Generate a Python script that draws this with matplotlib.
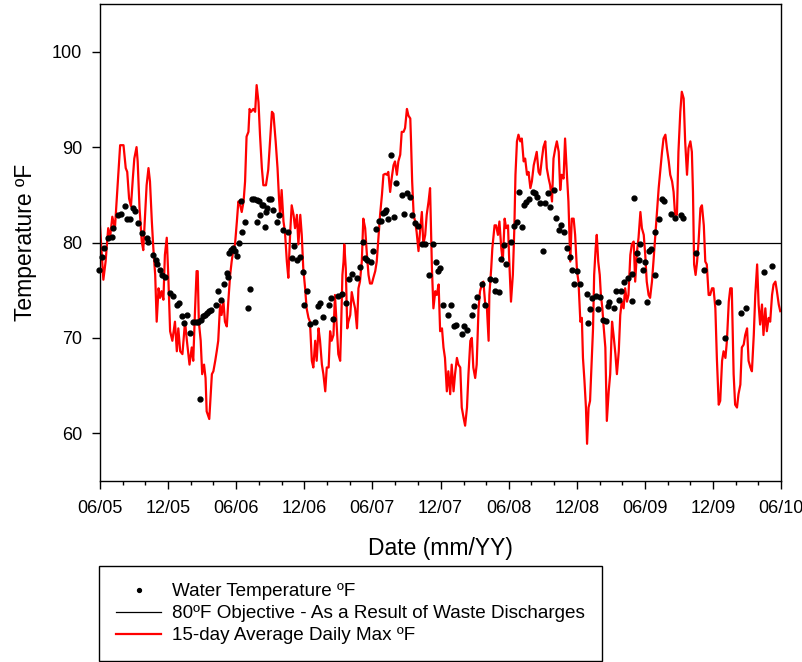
import numpy as np
import matplotlib.pyplot as plt
import matplotlib.dates as mdates

plt.rcParams['font.family'] = ['Liberation Sans', 'DejaVu Sans']

start = np.datetime64('2005-06-01')

# 15-day average daily max (days after 06/01/05, degF)
red_day = [0, 9, 15, 22, 27, 33, 40, 45, 54, 63, 69, 73, 78, 83, 88, 92, 98, 101, 106, 112,
           116, 121, 125, 130, 134, 139, 143, 148, 152, 157, 161, 165, 170, 174, 179, 183, 188, 194, 201, 206,
           210, 215, 221, 228, 233, 240, 246, 250, 255, 259, 262, 265, 270, 274, 279, 283, 286, 293, 300, 304,
           309, 313, 317, 322, 326, 331, 335, 340, 344, 349, 353, 358, 362, 367, 371, 376, 380, 385, 389, 393,
           398, 401, 405, 411, 416, 420, 425, 429, 434, 438, 445, 451, 456, 461, 465, 468, 471, 476, 480, 483,
           487, 492, 496, 501, 505, 510, 514, 519, 523, 528, 532, 537, 541, 545, 550, 554, 559, 563, 568, 572,
           577, 581, 586, 590, 595, 599, 604, 608, 613, 617, 621, 626, 630, 635, 639, 644, 646, 650, 653, 655,
           659, 663, 666, 671, 675, 680, 684, 689, 693, 697, 702, 706, 711, 715, 720, 724, 729, 733, 738, 742,
           747, 751, 756, 760, 765, 769, 773, 778, 782, 787, 791, 796, 800, 805, 809, 814, 818, 823, 827, 832,
           834, 837, 841, 845, 849, 854, 858, 863, 867, 872, 876, 881, 885, 890, 894, 899, 903, 908, 912, 917,
           921, 925, 930, 934, 939, 943, 948, 952, 957, 961, 966, 970, 975, 979, 984, 988, 993, 997, 1001, 1006,
           1010, 1015, 1019, 1024, 1028, 1033, 1037, 1042, 1044, 1049, 1052, 1058, 1062, 1067, 1071, 1076, 1080, 1085, 1089, 1094,
           1097, 1102, 1107, 1111, 1114, 1118, 1122, 1127, 1131, 1136, 1140, 1145, 1149, 1154, 1158, 1163, 1167, 1171, 1176, 1180,
           1185, 1189, 1194, 1198, 1203, 1207, 1212, 1216, 1221, 1225, 1230, 1234, 1238, 1243, 1247, 1252, 1256, 1261, 1265, 1270,
           1274, 1279, 1283, 1288, 1292, 1295, 1299, 1303, 1306, 1310, 1314, 1317, 1322, 1325, 1329, 1332, 1336, 1340, 1343, 1347,
           1350, 1355, 1359, 1364, 1368, 1373, 1377, 1382, 1386, 1391, 1395, 1399, 1404, 1408, 1413, 1417, 1422, 1426, 1431, 1435,
           1440, 1444, 1449, 1453, 1458, 1462, 1466, 1471, 1475, 1480, 1484, 1489, 1493, 1498, 1502, 1507, 1511, 1516, 1520, 1525,
           1529, 1534, 1538, 1542, 1547, 1551, 1556, 1560, 1565, 1569, 1574, 1578, 1583, 1587, 1590, 1593, 1597, 1601, 1605, 1610,
           1614, 1619, 1623, 1627, 1632, 1636, 1641, 1645, 1650, 1654, 1659, 1663, 1668, 1672, 1677, 1681, 1686, 1690, 1694, 1699,
           1703, 1708, 1712, 1717, 1721, 1726, 1730, 1735, 1739, 1744, 1748, 1753, 1757, 1762, 1766, 1770, 1775, 1779, 1784, 1788,
           1793, 1797, 1802, 1806, 1811, 1815, 1820, 1824]
red_val = [81.7, 76.1, 78.0, 81.5, 80.5, 82.7, 81.5, 84.6, 90.2, 90.2, 87.8, 87.4, 84.6, 83.8, 86.7, 88.8, 90.0, 88.5, 83.6, 80.1,
           79.2, 82.9, 86.0, 87.8, 86.4, 82.2, 79.4, 76.6, 71.7, 75.2, 74.2, 74.9, 74.0, 78.7, 80.5, 76.6, 70.7, 69.7, 71.7, 68.6,
           71.0, 68.6, 68.3, 71.7, 69.7, 67.2, 69.0, 67.6, 73.1, 77.0, 77.0, 71.7, 69.7, 66.2, 67.2, 65.8, 62.3, 61.5, 66.2, 66.5,
           67.6, 68.6, 69.7, 73.5, 72.4, 73.8, 71.7, 71.2, 73.8, 76.6, 78.0, 79.4, 79.8, 82.2, 84.3, 83.9, 83.2, 84.3, 86.4, 91.1,
           91.6, 94.0, 93.7, 94.0, 93.7, 96.5, 94.7, 91.3, 87.8, 86.0, 86.0, 87.6, 90.6, 93.7, 93.5, 92.0, 90.6, 87.8, 84.6, 82.9,
           85.5, 82.2, 81.1, 78.0, 76.3, 81.1, 83.9, 82.9, 81.5, 82.9, 79.8, 82.9, 80.8, 77.3, 75.2, 73.1, 72.1, 71.7, 67.6, 66.9,
           69.7, 67.6, 71.0, 69.7, 67.2, 66.2, 64.4, 66.9, 66.9, 70.7, 69.7, 70.3, 74.5, 71.0, 68.3, 67.6, 70.3, 76.6, 78.0, 79.8,
           77.3, 71.0, 71.7, 72.4, 74.8, 73.8, 73.1, 71.0, 75.2, 75.9, 78.0, 82.5, 81.5, 79.1, 76.6, 75.7, 75.7, 76.3, 77.0, 78.0,
           80.8, 82.9, 85.0, 87.1, 87.2, 87.1, 87.4, 85.3, 86.7, 88.1, 88.5, 87.1, 88.5, 89.2, 91.6, 91.6, 92.0, 94.0, 93.3, 93.0,
           90.6, 86.4, 82.9, 82.2, 81.1, 79.1, 81.1, 83.2, 79.8, 80.8, 82.9, 84.3, 85.7, 77.3, 73.1, 74.9, 74.5, 75.6, 70.7, 71.0,
           69.0, 67.9, 64.4, 66.5, 64.1, 67.2, 64.4, 66.2, 67.9, 67.2, 66.9, 62.7, 61.6, 60.8, 62.7, 66.2, 69.7, 70.0, 66.9, 65.8,
           67.2, 73.1, 74.9, 75.6, 75.9, 73.5, 73.5, 69.7, 74.5, 77.3, 79.4, 81.8, 81.8, 80.8, 82.2, 79.4, 78.0, 82.5, 81.5, 81.8,
           78.4, 73.8, 76.6, 81.5, 87.1, 90.6, 91.3, 90.6, 90.9, 88.5, 88.8, 87.1, 87.4, 85.7, 86.4, 88.1, 88.8, 89.5, 87.4, 87.1,
           88.8, 90.0, 90.6, 87.8, 86.7, 86.0, 84.3, 88.8, 89.9, 90.6, 89.5, 85.5, 87.1, 86.7, 90.9, 87.1, 84.3, 78.0, 82.5, 82.5,
           80.8, 77.0, 75.9, 71.7, 72.1, 67.9, 65.5, 62.7, 58.9, 62.7, 63.4, 66.2, 71.0, 76.6, 79.4, 80.8, 78.0, 76.6, 74.5, 73.1,
           71.4, 69.0, 61.3, 64.4, 66.2, 71.7, 70.3, 68.3, 66.2, 68.6, 72.4, 73.8, 73.1, 75.2, 73.8, 74.5, 78.7, 79.8, 80.1, 75.9,
           79.1, 80.5, 83.2, 81.5, 80.8, 78.7, 75.9, 74.5, 74.2, 75.9, 78.0, 80.8, 82.9, 85.7, 87.4, 89.5, 90.9, 91.3, 89.9, 88.5,
           87.1, 86.4, 85.3, 82.9, 82.9, 89.5, 93.7, 95.8, 95.1, 90.6, 87.1, 89.9, 90.6, 89.5, 85.3, 77.7, 76.6, 78.0, 80.1, 83.6,
           83.9, 81.8, 78.0, 77.7, 74.5, 74.5, 75.2, 75.2, 73.1, 67.9, 63.0, 63.4, 67.6, 68.6, 67.9, 69.7, 73.8, 75.2, 75.2, 66.2,
           63.0, 62.7, 64.1, 65.1, 69.0, 69.3, 70.3, 71.0, 67.6, 66.9, 66.5, 70.3, 74.5, 77.7, 73.5, 71.4, 73.5, 70.3, 73.1, 70.7,
           72.1, 71.7, 74.5, 75.6, 75.9, 74.9, 73.5, 72.8]

# water temperature samples (days after 06/01/05, degF)
dot_day = [-4, 6, 12, 22, 31, 36, 49, 56, 67, 72, 81, 89, 94, 101, 112, 125, 130, 143, 150, 152,
           161, 165, 174, 188, 195, 206, 212, 221, 226, 234, 241, 249, 258, 264, 268, 270, 277, 282, 286, 293,
           298, 311, 317, 325, 333, 340, 342, 347, 351, 356, 362, 368, 374, 378, 382, 389, 396, 402, 407, 413,
           420, 422, 425, 429, 434, 438, 443, 445, 449, 454, 459, 465, 474, 480, 492, 503, 514, 521, 529, 535,
           543, 548, 554, 563, 577, 584, 590, 599, 613, 619, 626, 639, 650, 660, 668, 677, 690, 696, 704, 711,
           715, 726, 731, 739, 747, 754, 758, 763, 767, 773, 781, 787, 794, 809, 816, 823, 830, 836, 845, 854,
           863, 872, 883, 894, 900, 906, 912, 921, 934, 942, 948, 954, 970, 977, 984, 997, 1004, 1012, 1024, 1033,
           1046, 1058, 1060, 1069, 1074, 1082, 1088, 1102, 1111, 1118, 1124, 1131, 1137, 1143, 1149, 1161, 1167, 1173, 1180, 1188,
           1194, 1201, 1207, 1216, 1223, 1230, 1236, 1243, 1252, 1259, 1265, 1270, 1279, 1286, 1306, 1308, 1313, 1319, 1329, 1334,
           1341, 1348, 1357, 1361, 1366, 1377, 1383, 1391, 1398, 1404, 1417, 1426, 1427, 1433, 1440, 1444, 1449, 1455, 1460, 1466,
           1471, 1478, 1487, 1489, 1498, 1507, 1511, 1532, 1542, 1559, 1562, 1599, 1619, 1656, 1675, 1719, 1733, 1781, 1803]
dot_val = [77.1, 78.5, 79.4, 80.5, 80.6, 81.5, 82.9, 83.0, 83.8, 82.5, 82.5, 83.6, 83.3, 82.0, 81.0, 80.5, 80.1, 78.7, 78.2, 77.7,
           77.1, 76.6, 76.4, 74.7, 74.4, 73.5, 73.7, 72.3, 71.6, 72.4, 70.5, 71.7, 71.7, 71.7, 63.6, 71.9, 72.3, 72.4, 72.6, 72.8,
           72.9, 73.5, 74.9, 74.0, 75.7, 76.8, 76.4, 78.9, 79.2, 79.4, 79.1, 78.6, 80.0, 84.3, 81.1, 82.2, 73.1, 75.1, 84.6, 84.6,
           84.5, 82.1, 84.3, 82.9, 83.9, 83.9, 81.6, 83.2, 83.6, 84.6, 84.6, 83.4, 82.2, 82.9, 81.3, 81.1, 78.4, 79.6, 78.2, 78.5,
           76.9, 73.5, 74.9, 71.5, 71.7, 73.3, 73.7, 72.2, 73.5, 74.2, 72.0, 74.4, 74.6, 73.7, 76.2, 76.7, 76.3, 77.4, 80.1, 78.4,
           78.2, 78.0, 79.1, 81.4, 82.3, 82.3, 83.1, 83.2, 83.4, 82.5, 89.2, 82.7, 86.2, 85.0, 83.0, 85.2, 84.8, 82.9, 82.0, 81.7,
           79.8, 79.8, 76.6, 79.8, 78.0, 77.0, 77.3, 73.4, 72.4, 73.5, 71.2, 71.3, 70.4, 71.2, 70.8, 72.4, 73.3, 74.3, 75.6, 73.5,
           76.2, 74.9, 76.1, 74.8, 78.3, 79.7, 77.7, 80.1, 81.7, 82.2, 85.3, 81.6, 83.9, 84.2, 84.6, 85.3, 85.2, 84.8, 84.1, 79.1,
           84.1, 85.2, 83.7, 85.5, 82.6, 81.3, 81.8, 81.1, 79.4, 78.5, 77.1, 75.7, 77.0, 75.7, 74.6, 71.6, 73.0, 74.2, 74.4, 73.0,
           74.3, 71.9, 71.8, 73.3, 73.8, 73.1, 74.9, 74.0, 74.9, 75.9, 76.3, 76.7, 73.9, 84.7, 78.9, 78.2, 79.8, 77.1, 78.0, 73.8,
           79.1, 79.3, 81.1, 76.6, 82.5, 84.6, 84.4, 83.0, 82.6, 82.9, 82.6, 78.9, 77.1, 73.8, 70.0, 72.6, 73.1, 76.9, 77.5]

objective = 80

red_dates = start + np.array(red_day, dtype='timedelta64[D]')
dot_dates = start + np.array(dot_day, dtype='timedelta64[D]')

fig = plt.figure(figsize=(8.02, 6.62), dpi=100)
ax = fig.add_axes([100 / 802, 1 - 481 / 662, 681 / 802, 477 / 662])

line_red, = ax.plot(red_dates, red_val, color='red', lw=1.6, zorder=2,
                    label='15-day Average Daily Max ºF')
line_obj = ax.axhline(objective, color='black', lw=0.9, zorder=1,
                      label='80ºF Objective - As a Result of Waste Discharges')
dots, = ax.plot(dot_dates, dot_val, 'o', color='black', ms=3.5, ls='none', zorder=3,
                clip_on=False, label='Water Temperature ºF')

ax.set_xlim(start, np.datetime64('2010-06-01'))
ax.set_ylim(55, 105)
ax.set_yticks([60, 70, 80, 90, 100])
ax.xaxis.set_major_locator(mdates.MonthLocator(bymonth=[6, 12]))
ax.xaxis.set_minor_locator(mdates.MonthLocator(bymonth=[2, 4, 8, 10]))
ax.xaxis.set_major_formatter(mdates.DateFormatter('%m/%y'))

ax.tick_params(axis='both', which='major', direction='out', length=6, width=1,
               labelsize=13, colors='black')
ax.tick_params(axis='x', which='major', pad=8)
ax.tick_params(axis='y', which='major', pad=7)
ax.tick_params(axis='x', which='minor', direction='out', length=3, width=1)
for s in ax.spines.values():
    s.set_linewidth(1.0)

ax.set_xlabel('Date (mm/YY)', fontsize=16.5, va='center')
ax.xaxis.set_label_coords(0.5, -(548 - 481) / 477)
ax.set_ylabel('Temperature ºF', fontsize=16.5, va='center')
ax.yaxis.set_label_coords(-(100 - 26) / 681, 0.5)

leg = fig.legend([dots, line_obj, line_red],
                 [dots.get_label(), line_obj.get_label(), line_red.get_label()],
                 loc='upper left', bbox_to_anchor=(99 / 802, 1 - 566 / 662),
                 fontsize=13.6, frameon=True, fancybox=False, framealpha=1,
                 edgecolor='black', borderpad=0.9, handlelength=2.4, handletextpad=0.55,
                 labelspacing=0.25, borderaxespad=0, markerscale=0.8)
leg.get_frame().set_linewidth(1.0)

fig.savefig('out.png', dpi=100)
